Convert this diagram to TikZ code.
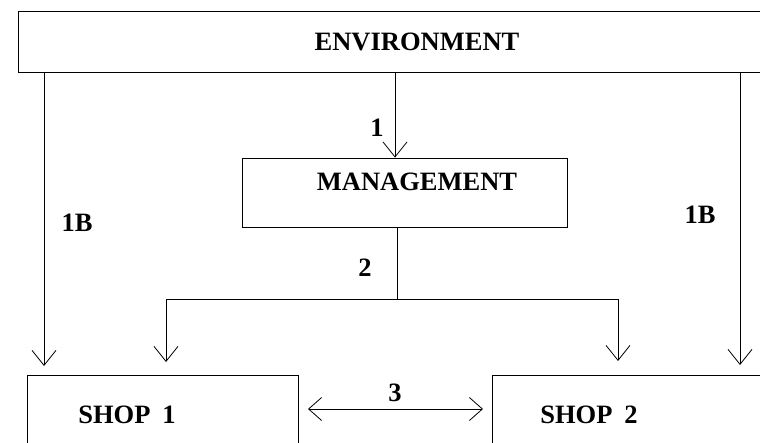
\documentclass[tikz,border=0pt]{standalone}
\usepackage{fontspec}
\setmainfont{Liberation Serif}
\usetikzlibrary{arrows.meta}

\tikzset{
  box/.style={draw, line width=0.8pt, inner sep=0pt},
  lbl/.style={font=\fontsize{26.5}{30}\selectfont\bfseries, inner sep=0pt},
  arr/.style={line width=0.8pt, -{Straight Barb[length=15pt,width=24pt]}},
  arrs/.style={line width=0.8pt, {Straight Barb[length=13pt,width=23pt]}-{Straight Barb[length=13pt,width=23pt]}},
}

\begin{document}
\begin{tikzpicture}[x=1pt, y=-1pt]

        \useasboundingbox (0,0) rectangle (760,442);
        \clip (0,0) rectangle (760,442);

        % boxes
        \node[box, minimum width=798pt, minimum height=61pt, lbl] (env) at (417,41.5) {ENVIRONMENT};

        \node[box, minimum width=325pt, minimum height=69pt] (mgmt) at (404.5,192.5) {};
        \node[lbl] (mgmttext) at (417,182) {MANAGEMENT};

        \node[box, minimum width=271pt, minimum height=120pt] (shop1) at (162.5,435) {};
        \node[lbl] (shop1text) at (127,415) {SHOP\hspace{0.45em}1};

        \node[box, minimum width=300pt, minimum height=120pt] (shop2) at (642,435) {};
        \node[lbl] (shop2text) at (589,415) {SHOP\hspace{0.45em}2};

        % arrow ends
        \coordinate (l1) at (44,366);
        \coordinate (r1) at (740,365);
        \coordinate (m1) at (395,0);
        \coordinate (split) at (397,299);
        \coordinate (l2) at (166,362);
        \coordinate (r2) at (618,361);
        \coordinate (s3a) at (308,409);
        \coordinate (s3b) at (483,409);

        \draw[arr] (env.south -| l1) -- (l1);
        \draw[arr] (env.south -| r1) -- (r1);
        \draw[arr] (env.south -| m1) -- (mgmt.north -| m1);

        \draw[line width=0.8pt] (mgmt.south -| split) -- (split);
        \draw[arr] (split) -| (l2);
        \draw[arr] (split) -| (r2);

        \draw[arrs] (s3a) -- (s3b);

        % labels
        \node[lbl] (n1) at (377,128) {1};
        \node[lbl] (n2) at (365,268) {2};
        \node[lbl] (n3) at (395,393) {3};
        \node[lbl] (n1bl) at (77,223) {1B};
        \node[lbl] (n1br) at (700,215) {1B};

    \end{tikzpicture}
\end{document}
